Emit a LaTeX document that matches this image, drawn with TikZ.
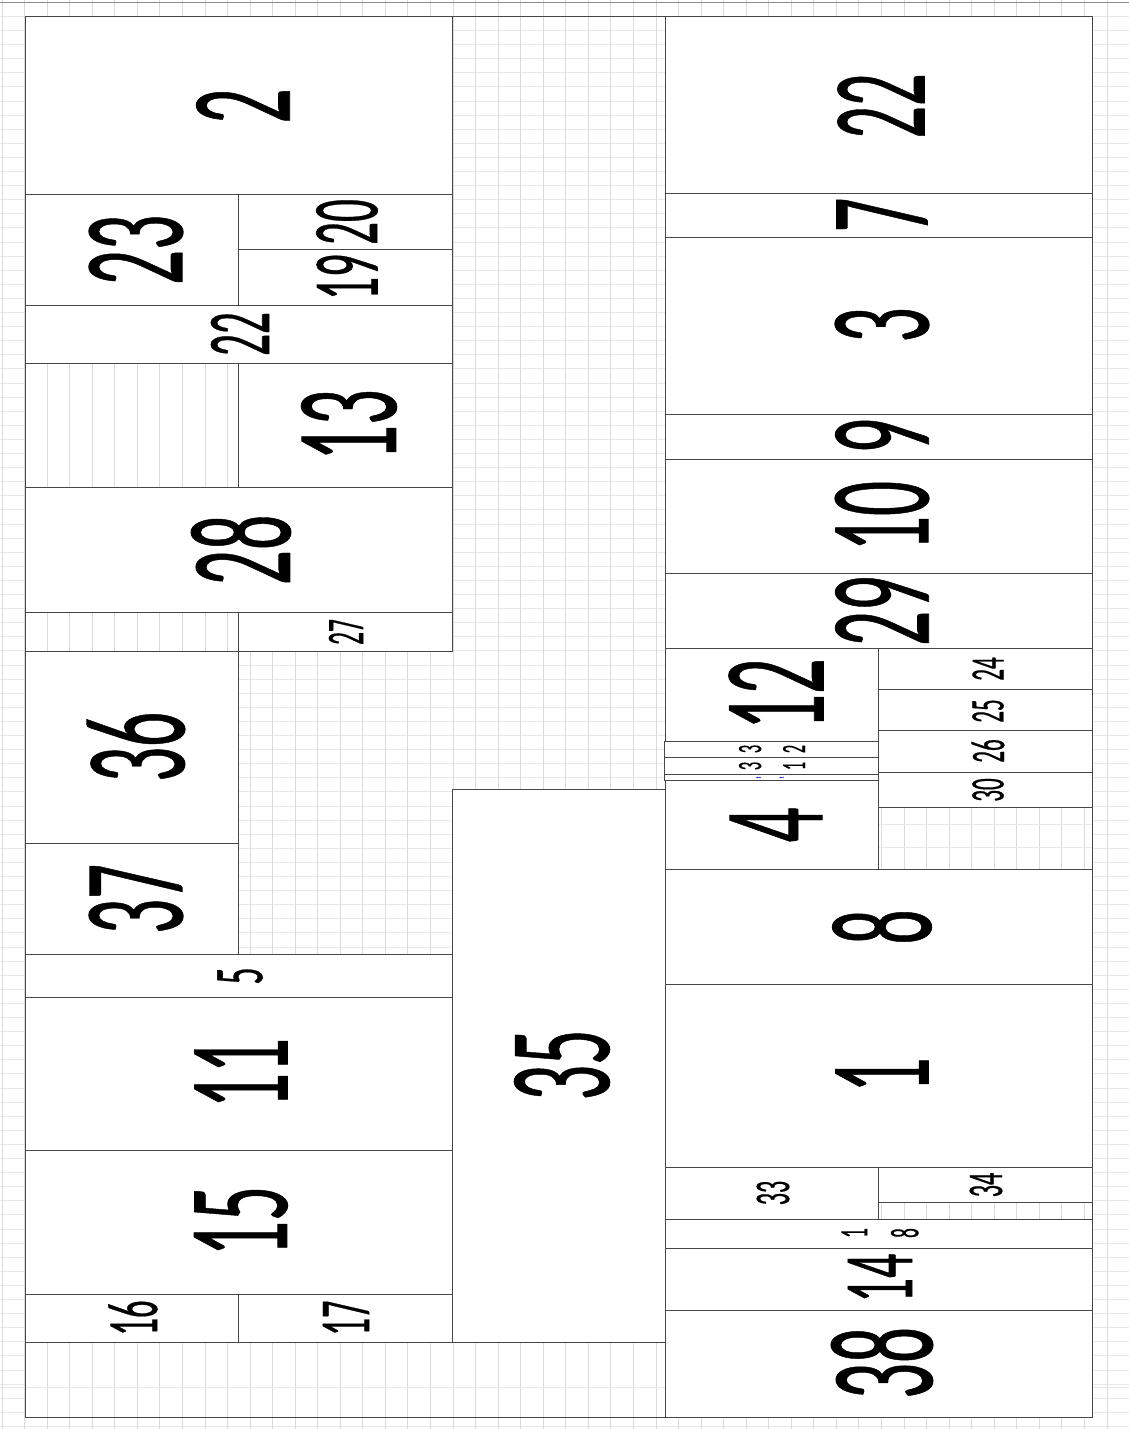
\documentclass[tikz,border=0pt]{standalone}
\usepackage{fontspec}
\setmainfont{Carlito}
\newfontfamily\lblfont{Carlito}[FakeBold=0.6]
\usepackage{graphicx}
\newcommand{\sq}[1]{\scalebox{0.48}[1]{#1}}
\tikzset{
  box/.style={draw=black!72, line width=1pt, fill=white},
  lbl/.style={rotate=90, inner sep=0pt, align=center},
  gridv/.style={draw=black!14, line width=0.9pt},
  gridh/.style={draw=black!9, line width=0.9pt},
}
\newcommand{\lb}[5]{\node[lbl, font=\lblfont\fontsize{#4}{#4}\selectfont] (#1) at (#2,#3) {\sq{#5}};}
\newcommand{\vlines}[4]{% x0 y0 x1 y1 : blank area with vertical grid lines only
  \fill[white] (#1,#2) rectangle (#3,#4);
  \foreach \k in {0,...,50} {
    \pgfmathsetmacro{\gx}{2+22.55*\k}
    \ifdim\gx pt>#1pt \ifdim\gx pt<#3pt \draw[gridv] (\gx,#2) -- (\gx,#4); \fi\fi
  }}
\begin{document}
\begin{tikzpicture}[x=1pt,y=-1pt]
\useasboundingbox (0,0) rectangle (1129,1429);
\clip (0,0) rectangle (1129,1429);
% background grid
\foreach \j in {0,...,101} \draw[gridh] (0,{2.3+14.1*\j}) -- (1129,{2.3+14.1*\j});
\foreach \k in {0,...,50} \draw[gridv] ({2+22.55*\k},0) -- ({2+22.55*\k},1429);
\draw[black!45, line width=0.9pt] (0,2.3) -- (1129,2.3);
% empty areas where only vertical grid lines show
\vlines{25}{363}{238}{487}
\vlines{25}{612}{238}{651}
\vlines{878}{1202}{1092}{1219}
\vlines{25}{1342}{665}{1417}
\draw[gridh] (0,1387) -- (1129,1387);
\vlines{878}{807}{1092}{869}
\draw[gridh] (878,824) -- (1092,824);
\draw[gridh] (878,847) -- (1092,847);
% bin outline
\draw[black!72, line width=1pt] (25,17) rectangle (1092,1417);
% left column
\draw[box] (25,17) rectangle (452,194);
\draw[box] (25,194) rectangle (238,305);
\draw[box] (238,194) rectangle (452,249);
\draw[box] (238,249) rectangle (452,305);
\draw[box] (25,305) rectangle (452,363);
\draw[box] (238,363) rectangle (452,487);
\draw[box] (25,487) rectangle (452,612);
\draw[box] (238,612) rectangle (452,651);
\draw[box] (25,651) rectangle (238,843);
\draw[box] (25,843) rectangle (238,954);
\draw[box] (25,954) rectangle (452,997);
\draw[box] (25,997) rectangle (452,1150);
\draw[box] (25,1150) rectangle (452,1294);
\draw[box] (25,1294) rectangle (238,1342);
\draw[box] (238,1294) rectangle (452,1342);
% middle
\draw[box] (452,789) rectangle (665,1342);
% right column
\draw[box] (665,17) rectangle (1092,193);
\draw[box] (665,193) rectangle (1092,237);
\draw[box] (665,237) rectangle (1092,414);
\draw[box] (665,414) rectangle (1092,459);
\draw[box] (665,459) rectangle (1092,573);
\draw[box] (665,573) rectangle (1092,648);
\draw[box] (665,648) rectangle (878,741);
\draw[box] (664,741) rectangle (878,757);
\draw[box] (664,757) rectangle (878,774);
\draw[box] (664,774) rectangle (878,780);
\draw[box] (665,780) rectangle (878,869);
\draw[box] (878,648) rectangle (1092,689);
\draw[box] (878,689) rectangle (1092,730);
\draw[box] (878,730) rectangle (1092,772);
\draw[box] (878,772) rectangle (1092,807);
\draw[box] (665,869) rectangle (1092,984);
\draw[box] (665,984) rectangle (1092,1167);
\draw[box] (665,1167) rectangle (878,1219);
\draw[box] (878,1167) rectangle (1092,1202);
\draw[box] (665,1219) rectangle (1092,1248);
\draw[box] (665,1248) rectangle (1092,1310);
\draw[box] (665,1310) rectangle (1092,1417);
% labels
\lb{l2}{243}{106}{144}{2}
\lb{l23}{136}{250}{144}{23}
\lb{l20}{347}{222}{94}{20}
\lb{l19}{347}{277}{94}{19}
\lb{l22a}{240}{334}{90}{22}
\lb{l13}{349}{425}{146}{13}
\lb{l28}{241}{550}{145}{28}
\lb{l27}{346}{632}{53}{27}
\lb{l36}{136}{747}{144}{36}
\lb{l37}{136}{899}{144}{37}
\lb{l5}{240}{976}{70}{5}
\lb{l11}{241}{1073}{144}{11}
\lb{l15}{241}{1221}{144}{15}
\lb{l16}{133}{1318}{72}{16}
\lb{l17}{346}{1318}{72}{17}
\lb{l35}{562}{1065}{146}{35}
\lb{l22b}{881}{106}{134}{22}
\lb{l7}{882}{215}{142}{7}
\lb{l3}{882}{325}{144}{3}
\lb{l9}{882}{436}{144}{9}
\lb{l10}{882}{516}{144}{10}
\lb{l29}{882}{611}{144}{29}
\lb{l12}{776}{694}{146}{12}
\node[lbl, font=\lblfont\fontsize{34}{44}\selectfont] (l32) at (772,749) {\sq{3}\\\sq{2}};
\node[lbl, font=\lblfont\fontsize{34}{44}\selectfont] (l31) at (772,766) {\sq{3}\\\sq{1}};
\node[lbl, font=\lblfont\fontsize{6}{23}\selectfont, text=blue!60!black] (l21) at (770,777.5) {\sq{2}\\\sq{1}};
\lb{l4}{776}{825}{144}{4}
\lb{l24}{988}{669}{48}{24}
\lb{l25}{988}{711}{48}{25}
\lb{l26}{988}{751}{48}{26}
\lb{l30}{988}{790}{48}{30}
\lb{l8}{882}{927}{144}{8}
\lb{l1}{882}{1075}{144}{1}
\lb{l33}{773}{1193}{50}{33}
\lb{l34}{986}{1185}{50}{34}
\node[lbl, font=\lblfont\fontsize{40}{51}\selectfont] (l18) at (880,1233) {\sq{1}\\\sq{8}};
\lb{l14}{880}{1278}{100}{14}
\lb{l38}{882}{1363}{148}{38}
\end{tikzpicture}
\end{document}
